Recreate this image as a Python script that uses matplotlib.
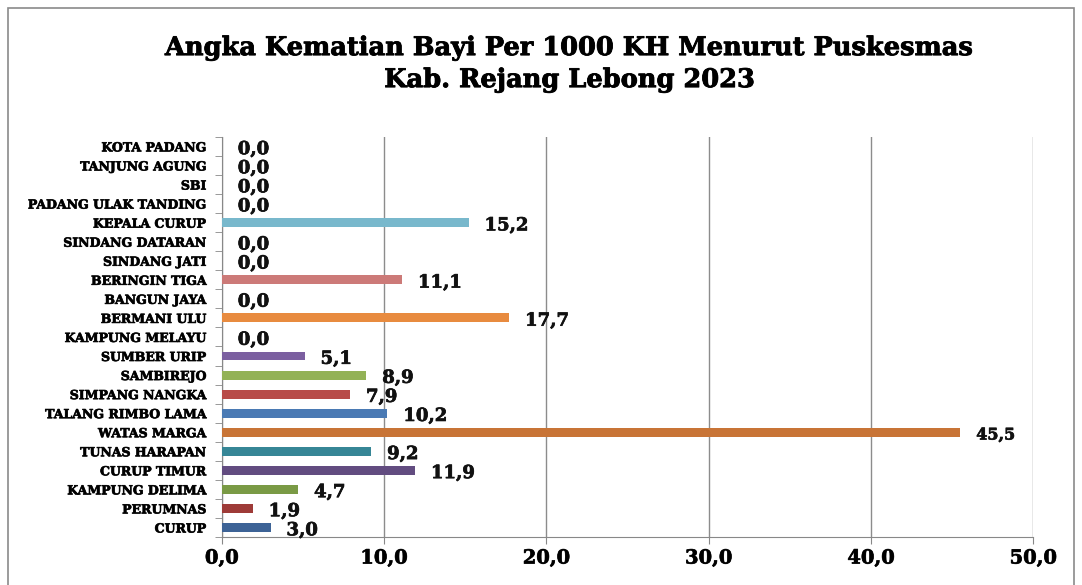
import matplotlib
matplotlib.use('Agg')
import matplotlib.pyplot as plt
import matplotlib.patheffects as pe
from matplotlib.patches import Rectangle

# data (bottom -> top)
puskesmas = ['CURUP', 'PERUMNAS', 'KAMPUNG DELIMA', 'CURUP TIMUR', 'TUNAS HARAPAN',
             'WATAS MARGA', 'TALANG RIMBO LAMA', 'SIMPANG NANGKA', 'SAMBIREJO',
             'SUMBER URIP', 'KAMPUNG MELAYU', 'BERMANI ULU', 'BANGUN JAYA',
             'BERINGIN TIGA', 'SINDANG JATI', 'SINDANG DATARAN', 'KEPALA CURUP',
             'PADANG ULAK TANDING', 'SBI', 'TANJUNG AGUNG', 'KOTA PADANG']
akb = [3.0, 1.9, 4.7, 11.9, 9.2, 45.5, 10.2, 7.9, 8.9, 5.1, 0.0, 17.7, 0.0,
       11.1, 0.0, 0.0, 15.2, 0.0, 0.0, 0.0, 0.0]
xticks = [0, 10, 20, 30, 40, 50]

bar_colors = ['#3D6396', '#9E3B38', '#7A9A45', '#624C80', '#368696', '#C87436',
              '#4A7AB4', '#B84B48', '#93B256', '#7B5FA0', '#4BACC6', '#E88B3F',
              '#6E95CC', '#CC7A78', '#AFCB7E', '#9C85BB', '#78B8CC', '#F6A96B',
              '#93B0DA', '#DA9E9C', '#C3D9A0']

plt.rcParams['font.family'] = ['DejaVu Serif']
heavy = [pe.withStroke(linewidth=0.5, foreground='#111111')]

fig = plt.figure(figsize=(10.82, 5.85), dpi=100)
ax = fig.add_axes([0.205, 0.082, 0.75, 0.684])

y = list(range(len(puskesmas)))
ax.barh(y, akb, height=0.47, color=bar_colors, zorder=3)

for yi, v in zip(y, akb):
    lbl = f"{v:.1f}".replace('.', ',')
    fs = 11.5 if v > 40 else 13
    ax.annotate(lbl, (v, yi), xytext=(11.5, -2), textcoords='offset points',
                ha='left', va='center', fontsize=fs, fontweight='bold',
                color='#111111', path_effects=heavy)

ax.set_xlim(0, 50)
ax.set_ylim(-0.5, len(puskesmas) - 0.5)
ax.set_xticks(xticks)
ax.set_xticklabels([f"{t:.1f}".replace('.', ',') for t in xticks],
                   fontsize=14, fontweight='bold', path_effects=heavy)
ax.set_yticks(y)
ax.set_yticklabels(puskesmas, fontsize=9, fontweight='bold', path_effects=heavy)
ax.set_yticks([i - 0.5 for i in range(len(puskesmas) + 1)], minor=True)
ax.tick_params(axis='y', which='major', length=0, pad=11)
ax.tick_params(axis='y', which='minor', length=5, color='#888888', direction='out')
ax.tick_params(axis='x', length=5, color='#888888', pad=4)

ax.grid(axis='x', color='#8C8C8C', linewidth=1, zorder=0)
for s in ['top', 'right']:
    ax.spines[s].set_visible(False)
ax.spines['left'].set_color('#888888')
ax.spines['bottom'].set_color('#888888')

fig.suptitle('Angka Kematian Bayi Per 1000 KH Menurut Puskesmas\nKab. Rejang Lebong 2023',
             x=0.527, y=0.94, fontsize=18.5, fontweight='bold', linespacing=1.35,
             path_effects=[pe.withStroke(linewidth=0.6, foreground='black')])

fig.patches.append(Rectangle((0.007, -0.01), 0.986, 0.997, transform=fig.transFigure,
                             fill=False, edgecolor='#8A8A8A', linewidth=1.2))

fig.savefig('out.png', dpi=100)
